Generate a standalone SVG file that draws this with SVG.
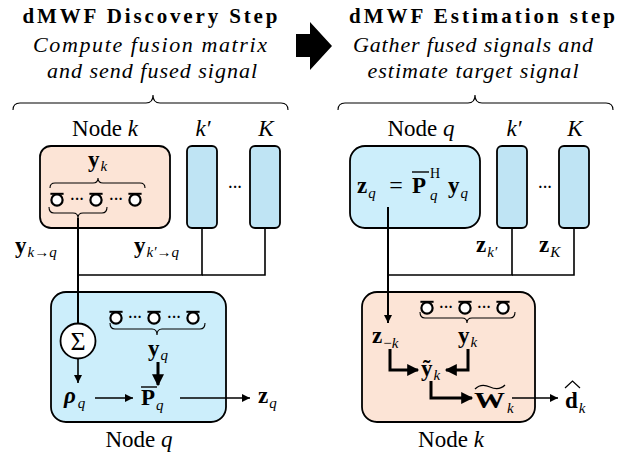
<svg xmlns="http://www.w3.org/2000/svg" width="641" height="460" viewBox="0 0 641 460" font-family="'Liberation Serif', 'Times New Roman', serif">
<style>
svg, text, tspan{font-family:"Liberation Serif","Times New Roman",serif}
text{fill:#000}
.ttl{font-size:21px;font-weight:bold}
.sub{font-size:22px;font-style:italic}
.lbl{font-size:23px}
.it{font-style:italic}
.m{font-size:23px;font-weight:bold}
.s{font-size:15px;font-style:italic;font-weight:normal}
.r{font-style:normal}
.peach{fill:#FCE4D6;stroke:#000;stroke-width:1.8}
.blue{fill:#CCEEFB;stroke:#000;stroke-width:1.8}
.blue2{fill:#BFE4F4;stroke:#000;stroke-width:1.8}
.ln{fill:none;stroke:#000;stroke-width:1.6}
.thk{fill:none;stroke:#000;stroke-width:3}
.br{fill:none;stroke:#000;stroke-width:1.1}
.dots{font-size:14px;font-weight:bold}
</style>
<defs>
<marker id="ah" viewBox="0 0 10 10" refX="10" refY="5" markerWidth="9" markerHeight="8" markerUnits="userSpaceOnUse" orient="auto">
<path d="M0,0 L10,5 L0,10 z" fill="#000"/>
</marker>
<marker id="ahb" viewBox="0 0 10 10" refX="9" refY="5" markerWidth="13" markerHeight="12" markerUnits="userSpaceOnUse" orient="auto">
<path d="M0,0 L10,5 L0,10 z" fill="#000"/>
</marker>
<g id="mic">
<circle r="5.6" cx="0" cy="0" fill="#fff" stroke="#000" stroke-width="2.2"/>
<line x1="-6.6" y1="-6.2" x2="6.6" y2="-6.2" stroke="#000" stroke-width="2"/>
</g>
</defs>

<!-- Headers -->
<g id="header-left">
<text class="ttl" x="150" y="23" text-anchor="middle" textLength="255">dMWF Discovery Step</text>
<text class="sub" x="150" y="52" text-anchor="middle" textLength="234">Compute fusion matrix</text>
<text class="sub" x="152" y="78" text-anchor="middle" textLength="210">and send fused signal</text>
<path class="br" d="M13,110 Q13,103 20,103 L146,103 Q153,103 153,95 Q153,103 160,103 L281,103 Q288,103 288,110"/>
</g>
<g id="big-arrow">
<polygon points="296,34 310,34 310,22 332,46 310,70 310,57 296,57" fill="#000"/>
</g>
<g id="header-right">
<text class="ttl" x="482" y="23" text-anchor="middle" textLength="266">dMWF Estimation step</text>
<text class="sub" x="473" y="52" text-anchor="middle" textLength="240">Gather fused signals and</text>
<text class="sub" x="473" y="78" text-anchor="middle" textLength="211">estimate target signal</text>
<path class="br" d="M338,110 Q338,103 345,103 L468,103 Q475,103 475,95 Q475,103 482,103 L606,103 Q613,103 613,110"/>
</g>

<!-- Left: Node k (top) -->
<g id="node-k-top">
<text class="lbl" x="105" y="136" text-anchor="middle">Node <tspan class="it">k</tspan></text>
<rect class="peach" x="40" y="146" width="130" height="82" rx="11"/>
<text class="m" x="88" y="167">y<tspan class="s" dx="1" dy="4">k</tspan></text>
<path class="br" d="M50,188 Q50,183 55,183 L93,183 Q98,183 98,178 Q98,183 103,183 L140,183 Q145,183 145,188"/>
<use href="#mic" x="57" y="200"/>
<use href="#mic" x="96" y="200"/>
<use href="#mic" x="135" y="200"/>
<text class="dots" x="77" y="204" text-anchor="middle">···</text>
<text class="dots" x="116" y="204" text-anchor="middle">···</text>
<path class="br" d="M49,207 Q49,213 54,213 L73,213 Q78,213 78,218 Q78,213 83,213 L102,213 Q107,213 107,207"/>
</g>
<g id="node-kprime-top-left">
<text class="lbl it" x="203" y="136" text-anchor="middle">k′</text>
<rect class="blue2" x="187" y="146" width="30" height="82" rx="5"/>
</g>
<text class="dots" x="235" y="192" text-anchor="middle">···</text>
<g id="node-K-top-left">
<text class="lbl it" x="266" y="136" text-anchor="middle">K</text>
<rect class="blue2" x="250" y="146" width="30" height="82" rx="5"/>
</g>
<g id="label-ykq">
<text class="m" x="15" y="253">y<tspan class="s" dx="1" dy="4">k<tspan class="r">→</tspan>q</tspan></text>
<text class="m" x="134" y="253">y<tspan class="s" dx="1" dy="4">k′<tspan class="r">→</tspan>q</tspan></text>
</g>

<!-- Left: Node q (bottom) -->
<g id="node-q-bottom">
<rect class="blue" x="51" y="292" width="175" height="130" rx="15"/>
<circle cx="78" cy="341" r="17.5" fill="#fff" stroke="#000" stroke-width="1.8"/>
<text x="78" y="350" text-anchor="middle" style="font-size:26px">Σ</text>
<use href="#mic" x="116" y="318"/>
<use href="#mic" x="154" y="318"/>
<use href="#mic" x="193" y="318"/>
<text class="dots" x="135" y="322" text-anchor="middle">···</text>
<text class="dots" x="174" y="322" text-anchor="middle">···</text>
<path class="br" d="M110,323 Q110,329 115,329 L152,329 Q157,329 157,335 Q157,329 162,329 L200,329 Q205,329 205,323"/>
<text class="m" x="148" y="356">y<tspan class="s" dx="1" dy="4">q</tspan></text>
<text class="m it" x="64" y="403">ρ<tspan class="s" dx="2" dy="5">q</tspan></text>
<line x1="141" y1="387" x2="157" y2="387" stroke="#000" stroke-width="1.4"/>
<text class="m" x="141" y="405">P<tspan class="s" dx="1" dy="5">q</tspan></text>
<text class="lbl" x="139" y="447" text-anchor="middle">Node <tspan class="it">q</tspan></text>
</g>
<text class="m" x="258" y="403">z<tspan class="s" dx="1" dy="5">q</tspan></text>

<!-- Right: Node q (top) -->
<g id="node-q-top">
<text class="lbl" x="421" y="136" text-anchor="middle">Node <tspan class="it">q</tspan></text>
<rect class="blue" x="350" y="146" width="130" height="82" rx="15"/>
<text class="m" x="357" y="193">z<tspan class="s" dx="1" dy="5">q</tspan></text>
<text x="396" y="193" text-anchor="middle" style="font-size:24px">=</text>
<line x1="412" y1="172" x2="429" y2="172" stroke="#000" stroke-width="1.4"/>
<text class="m" x="412" y="193">P</text>
<text x="430" y="178" style="font-size:14px">H</text>
<text class="s" x="430" y="200">q</text>
<text class="m" x="448" y="193">y<tspan class="s" dx="1" dy="5">q</tspan></text>
</g>
<g id="node-kprime-top-right">
<text class="lbl it" x="514" y="136" text-anchor="middle">k′</text>
<rect class="blue2" x="497" y="146" width="30" height="82" rx="5"/>
</g>
<text class="dots" x="545" y="192" text-anchor="middle">···</text>
<g id="node-K-top-right">
<text class="lbl it" x="575" y="136" text-anchor="middle">K</text>
<rect class="blue2" x="559" y="146" width="30" height="82" rx="5"/>
</g>
<g id="label-zk">
<text class="m" x="476" y="252">z<tspan class="s" dx="1" dy="5">k′</tspan></text>
<text class="m" x="539" y="252">z<tspan class="s" dx="1" dy="5">K</tspan></text>
</g>

<!-- Right: Node k (bottom) -->
<g id="node-k-bottom">
<rect class="peach" x="362" y="292" width="173" height="130" rx="15"/>
<use href="#mic" x="427" y="308"/>
<use href="#mic" x="465" y="308"/>
<use href="#mic" x="503" y="308"/>
<text class="dots" x="446" y="312" text-anchor="middle">···</text>
<text class="dots" x="484" y="312" text-anchor="middle">···</text>
<path class="br" d="M420,312 Q420,318 425,318 L462,318 Q467,318 467,323 Q467,318 472,318 L510,318 Q515,318 515,312"/>
<text class="m" x="372" y="343">z<tspan class="s" dx="1" dy="5"><tspan class="r">−</tspan>k</tspan></text>
<text class="m" x="458" y="343">y<tspan class="s" dx="1" dy="4">k</tspan></text>
<text class="m" x="421" y="376">ỹ<tspan class="s" dx="1" dy="4">k</tspan></text>
<path d="M475,389 Q481,383 490,387 Q499,391 505,385" fill="none" stroke="#000" stroke-width="1.3"/>
<text class="m" x="474" y="408" textLength="31" lengthAdjust="spacingAndGlyphs">W</text>
<text class="s" x="507" y="413">k</text>
<text class="lbl" x="451" y="447" text-anchor="middle">Node <tspan class="it">k</tspan></text>
</g>
<g id="output-d">
<polyline points="565,388 572.5,381 580,388" fill="none" stroke="#000" stroke-width="1.2"/>
<text class="m" x="565" y="408">d<tspan class="s" dx="1" dy="5">k</tspan></text>
</g>

<!-- Connectors -->
<g id="connectors">
<line class="ln" x1="78" y1="218" x2="78" y2="323.5" style="stroke-width:2"/>
<polyline class="ln" points="202,228 202,275 78,275"/>
<polyline class="ln" points="265,228 265,275 202,275"/>
<line class="ln" x1="78" y1="358.5" x2="78" y2="383" marker-end="url(#ah)"/>
<line class="ln" x1="95" y1="398" x2="133" y2="398" marker-end="url(#ah)"/>
<line class="ln" x1="180" y1="398" x2="250" y2="398" marker-end="url(#ah)"/>
<line class="thk" x1="158" y1="362" x2="158" y2="385" marker-end="url(#ahb)"/>
<line class="ln" x1="388" y1="207" x2="388" y2="323" marker-end="url(#ah)" style="stroke-width:2"/>
<polyline class="ln" points="512,228 512,275 388,275"/>
<polyline class="ln" points="574,228 574,275 512,275"/>
<polyline class="thk" points="390,349 390,370 418,370" marker-end="url(#ahb)"/>
<polyline class="thk" points="468,349 468,370 446,370" marker-end="url(#ahb)"/>
<polyline class="thk" points="431,381 431,398 472,398" marker-end="url(#ahb)"/>
<line class="ln" x1="512" y1="398" x2="558" y2="398" marker-end="url(#ah)"/>
</g>
</svg>
